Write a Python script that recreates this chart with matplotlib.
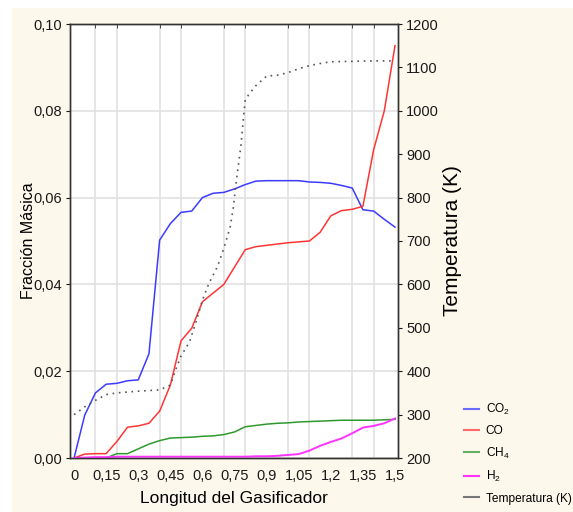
import matplotlib as mpl
mpl.use('Agg')
import matplotlib.pyplot as plt
from matplotlib.lines import Line2D
from matplotlib.patches import Rectangle
from matplotlib.ticker import FixedLocator, FixedFormatter, MultipleLocator

plt.rcParams['font.family'] = ['Liberation Sans Narrow', 'Liberation Sans', 'DejaVu Sans']
plt.rcParams['mathtext.default'] = 'regular'

# longitud (m), pasos de 0,05
longitud = [0.0, 0.05, 0.1, 0.15, 0.2, 0.25, 0.3, 0.35, 0.4, 0.45, 0.5,
            0.55, 0.6, 0.65, 0.7, 0.75, 0.8, 0.85, 0.9, 0.95, 1.0,
            1.05, 1.1, 1.15, 1.2, 1.25, 1.3, 1.35, 1.4, 1.45, 1.5]

co2 = [0.0, 0.0099, 0.015, 0.017, 0.0172, 0.0178, 0.018, 0.024, 0.0502, 0.054, 0.0566,
       0.0569, 0.060, 0.061, 0.0612, 0.062, 0.063, 0.0638, 0.0639, 0.0639, 0.0639,
       0.0639, 0.0636, 0.0635, 0.0633, 0.0628, 0.0622, 0.0572, 0.0569, 0.055, 0.0532]

co = [0.0, 0.0009, 0.001, 0.001, 0.0038, 0.0071, 0.0074, 0.008, 0.0108, 0.0168, 0.027,
      0.0299, 0.036, 0.038, 0.040, 0.044, 0.048, 0.0487, 0.049, 0.0493, 0.0496,
      0.0498, 0.050, 0.052, 0.0558, 0.057, 0.0573, 0.058, 0.071, 0.080, 0.095]

ch4 = [0.0, 0.0, 0.0, 0.0, 0.001, 0.001, 0.0021, 0.0032, 0.004, 0.0046, 0.0047,
       0.0048, 0.005, 0.0051, 0.0054, 0.006, 0.0072, 0.0075, 0.0078, 0.008, 0.0081,
       0.0083, 0.0084, 0.0085, 0.0086, 0.0087, 0.0087, 0.0087, 0.0087, 0.0088, 0.0089]

h2 = [0.0, 0.0001, 0.0002, 0.0002, 0.0003, 0.0003, 0.0003, 0.0003, 0.0003, 0.0003, 0.0003,
      0.0003, 0.0003, 0.0003, 0.0003, 0.0003, 0.0003, 0.0004, 0.0004, 0.0005, 0.0007,
      0.0009, 0.0017, 0.0028, 0.0037, 0.0045, 0.0057, 0.007, 0.0074, 0.008, 0.0091]

# temperatura leida con mas puntos en la subida
long_temp = [0.0, 0.05, 0.1, 0.15, 0.2, 0.3, 0.4, 0.45, 0.48, 0.5, 0.54, 0.57, 0.6, 0.63,
             0.67, 0.7, 0.73, 0.745, 0.755, 0.765, 0.78, 0.79, 0.8, 0.82, 0.85, 0.87,
             0.9, 0.95, 1.0, 1.05, 1.1, 1.15, 1.2, 1.3, 1.4, 1.5]
temp = [300, 318, 333, 346, 350, 354, 357, 368, 410, 435, 468, 514, 564, 602,
        641, 683, 733, 779, 825, 864, 920, 975, 1025, 1040, 1058, 1067,
        1080, 1082, 1088, 1097, 1104, 1109, 1113, 1114, 1115, 1115]

x_ticks = [0, 0.15, 0.3, 0.45, 0.6, 0.75, 0.9, 1.05, 1.2, 1.35, 1.5]
x_ticklabels = ['0', '0,15', '0,3', '0,45', '0,6', '0,75', '0,9', '1,05', '1,2', '1,35', '1,5']
y_ticks = [0.0, 0.02, 0.04, 0.06, 0.08, 0.10]
y_ticklabels = ['0,00', '0,02', '0,04', '0,06', '0,08', '0,10']
t_ticks = [200, 300, 400, 500, 600, 700, 800, 900, 1000, 1100, 1200]

cream = '#fdf8ec'
fig = plt.figure(figsize=(5.73, 5.12), dpi=100, facecolor='white')
fig.patches.append(Rectangle((12/573, 0), 1, 1 - 8/512, transform=fig.transFigure,
                             facecolor=cream, edgecolor='none', zorder=-10))

ax = fig.add_axes([70/573, 1 - 458/512, 328/573, 434/512])
ax.set_facecolor('white')
ax.plot(longitud, co2, color='#3b3bff', lw=1.1, zorder=4)
ax.plot(longitud, co, color='#ff3535', lw=1.1, zorder=4)
ax.plot(longitud, ch4, color='#2e9a2e', lw=1.1, zorder=4)
ax.plot(longitud, h2, color='#ff33ff', lw=1.4, zorder=4)

ax.set_xlim(-0.019, 1.514)
ax.set_ylim(0, 0.10)
ax.xaxis.set_major_locator(FixedLocator(x_ticks))
ax.xaxis.set_major_formatter(FixedFormatter(x_ticklabels))
ax.xaxis.set_minor_locator(MultipleLocator(0.1))
ax.yaxis.set_major_locator(FixedLocator(y_ticks))
ax.yaxis.set_major_formatter(FixedFormatter(y_ticklabels))
ax.grid(which='minor', axis='x', color='#e2e2e2', lw=1.2)
ax.grid(which='major', axis='y', color='#e2e2e2', lw=1.2)
ax.set_axisbelow(True)
ax.tick_params(axis='x', which='major', length=0, pad=8, labelsize=10.5, colors='#1a1a1a')
ax.tick_params(axis='x', which='minor', top=True, bottom=False, direction='in', length=3, color='#333333')
ax.tick_params(axis='y', length=3, direction='out', pad=3, labelsize=10.5, colors='#1a1a1a')
for s in ax.spines.values():
    s.set_color('#333333')
    s.set_linewidth(1.0)

ax.set_xlabel('Longitud del Gasificador', family=['Liberation Sans', 'DejaVu Sans'],
              fontsize=12.5, labelpad=6)
ax.set_ylabel('Fracción Másica', family=['Liberation Sans', 'DejaVu Sans'],
              fontsize=11.5, labelpad=-2)

ax2 = ax.twinx()
ax2.plot(long_temp, temp, color='#555555', lw=1.2, linestyle=(0, (1, 2.8)), zorder=3)
ax2.set_ylim(200, 1200)
ax2.yaxis.set_major_locator(FixedLocator(t_ticks))
ax2.tick_params(axis='y', length=3, direction='out', pad=3, labelsize=10.5, colors='#1a1a1a')
for s in ax2.spines.values():
    s.set_color('#333333')
    s.set_linewidth(1.0)
ax2.set_ylabel('Temperatura (K)', family=['Liberation Sans', 'DejaVu Sans'],
               fontsize=15, labelpad=3)

handles = [Line2D([], [], color='#6a6aff', lw=1.5),
           Line2D([], [], color='#ff6a6a', lw=1.5),
           Line2D([], [], color='#66b066', lw=1.5),
           Line2D([], [], color='#ff33ff', lw=1.5),
           Line2D([], [], color='#777777', lw=1.5)]
labels = ['CO$_2$', 'CO', 'CH$_4$', 'H$_2$', 'Temperatura (K)']
fig.legend(handles, labels, loc='upper left', bbox_to_anchor=(459/573, 1 - 397/512),
           frameon=False, fontsize=8.6, handlelength=1.25, handletextpad=0.6,
           labelspacing=0.7, borderaxespad=0)

fig.savefig('out.png', dpi=100, facecolor=fig.get_facecolor())
